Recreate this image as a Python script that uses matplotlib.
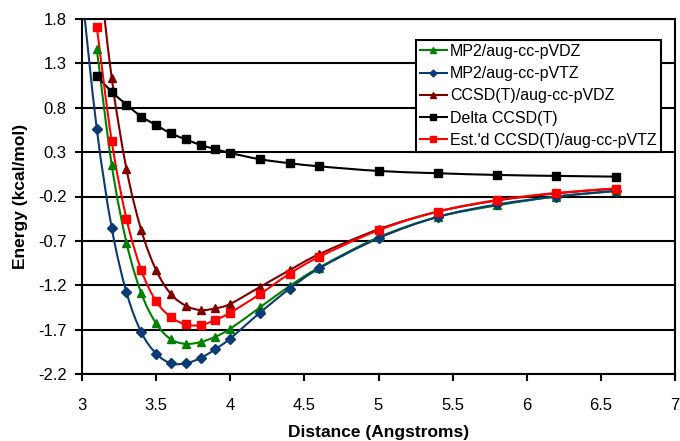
import matplotlib
matplotlib.use("Agg")
import matplotlib.pyplot as plt
from matplotlib.path import Path
from matplotlib.patches import PathPatch
from matplotlib.lines import Line2D
import numpy as np

plt.rcParams['font.family'] = ['Liberation Sans', 'DejaVu Sans']
plt.rcParams['axes.unicode_minus'] = False

# ---- data ----
dist = [3.1, 3.2, 3.3, 3.4, 3.5, 3.6, 3.7, 3.8, 3.9, 4.0, 4.2, 4.4, 4.6, 5.0, 5.4, 5.8, 6.2, 6.6]
dist_tz = [3.0] + dist

mp2_dz = [1.46, 0.16, -0.72, -1.29, -1.63, -1.81, -1.86, -1.84, -1.78, -1.69,
          -1.45, -1.21, -1.00, -0.66, -0.43, -0.30, -0.20, -0.14]
mp2_tz = [2.1, 0.56, -0.55, -1.28, -1.73, -1.97, -2.08, -2.08, -2.02, -1.92, -1.80,
          -1.51, -1.24, -1.01, -0.67, -0.43, -0.29, -0.20, -0.135]
ccsd_dz = [2.6, 1.14, 0.11, -0.58, -1.03, -1.30, -1.43, -1.48, -1.46, -1.41,
           -1.22, -1.03, -0.85, -0.57, -0.37, -0.245, -0.165, -0.11]
delta = [1.16, 0.98, 0.835, 0.70, 0.605, 0.51, 0.445, 0.38, 0.335, 0.29,
         0.22, 0.175, 0.14, 0.088, 0.062, 0.043, 0.032, 0.024]
est_tz = [1.71, 0.43, -0.45, -1.03, -1.38, -1.56, -1.64, -1.65, -1.59, -1.51,
          -1.30, -1.07, -0.88, -0.58, -0.37, -0.24, -0.16, -0.11]

labels = ["MP2/aug-cc-pVDZ", "MP2/aug-cc-pVTZ", "CCSD(T)/aug-cc-pVDZ",
          "Delta CCSD(T)", "Est.'d CCSD(T)/aug-cc-pVTZ"]
colors = ["#008000", "#0B3B73", "#800000", "#000000", "#FF0000"]
markers = ["^", "D", "^", "s", "s"]
msizes = [6.3, 4.7, 6.3, 5.5, 5.8]
# first plotted point of mp2_tz (3.0) and ccsd_dz (3.1) lie above the axis range
series = [(dist, mp2_dz), (dist_tz, mp2_tz), (dist, ccsd_dz), (dist, delta), (dist, est_tz)]

yticks = [-2.2, -1.7, -1.2, -0.7, -0.2, 0.3, 0.8, 1.3, 1.8]
xticks = [3, 3.5, 4, 4.5, 5, 5.5, 6, 6.5, 7]


def smooth_path(xs, ys):
    p = np.column_stack([xs, ys]).astype(float)
    n = len(p)
    verts = [p[0]]
    codes = [Path.MOVETO]
    for i in range(n - 1):
        p0 = p[max(i - 1, 0)]
        p1 = p[i]
        p2 = p[i + 1]
        p3 = p[min(i + 2, n - 1)]
        c1 = p1 + (p2 - p0) / 6.0
        c2 = p2 - (p3 - p1) / 6.0
        verts += [c1, c2, p2]
        codes += [Path.CURVE4] * 3
    return Path(verts, codes)


fig = plt.figure(figsize=(6.8, 4.41), dpi=100)
ax = fig.add_axes([82 / 680, 1 - 374 / 441, (675 - 82) / 680, (374 - 19) / 441])

for (xs, ys), c, m, ms in zip(series, colors, markers, msizes):
    patch = PathPatch(smooth_path(xs, ys), fill=False, edgecolor=c, lw=1.5, zorder=3)
    ax.add_patch(patch)
    ax.plot(xs, ys, linestyle='none', marker=m, color=c, markersize=ms, zorder=4)

ax.set_xlim(3, 7)
ax.set_ylim(-2.2, 1.8)
ax.set_xticks(xticks)
ax.set_xticklabels([f"{t:g}" for t in xticks])
ax.set_yticks(yticks)
ax.set_yticklabels([f"{t:.1f}" for t in yticks])
ax.yaxis.grid(True, color='black', lw=1.5)
ax.set_axisbelow(True)
for s in ax.spines.values():
    s.set_linewidth(1.5)
    s.set_color('black')
ax.tick_params(axis='both', direction='out', length=5, width=1.5, labelsize=12, colors='black')
ax.tick_params(axis='x', pad=12)
ax.tick_params(axis='y', pad=6)

ax.set_xlabel("Distance (Angstroms)", fontsize=12.5, fontweight='bold', labelpad=9)
ax.set_ylabel("Energy (kcal/mol)", fontsize=12.5, fontweight='bold', labelpad=7)

handles = [Line2D([0], [0], color=c, marker=m, markersize=ms * 0.75, lw=1.5)
           for c, m, ms in zip(colors, markers, msizes)]
leg = ax.legend(handles, labels, loc='upper right', bbox_to_anchor=(0.976, 0.941),
                borderaxespad=0, fontsize=11.5, fancybox=False, framealpha=1,
                edgecolor='black', handlelength=1.7, handletextpad=0.2,
                borderpad=0.25, labelspacing=0.45)
leg.get_frame().set_linewidth(1.5)
leg.set_zorder(10)

fig.savefig("out.png", dpi=100)
